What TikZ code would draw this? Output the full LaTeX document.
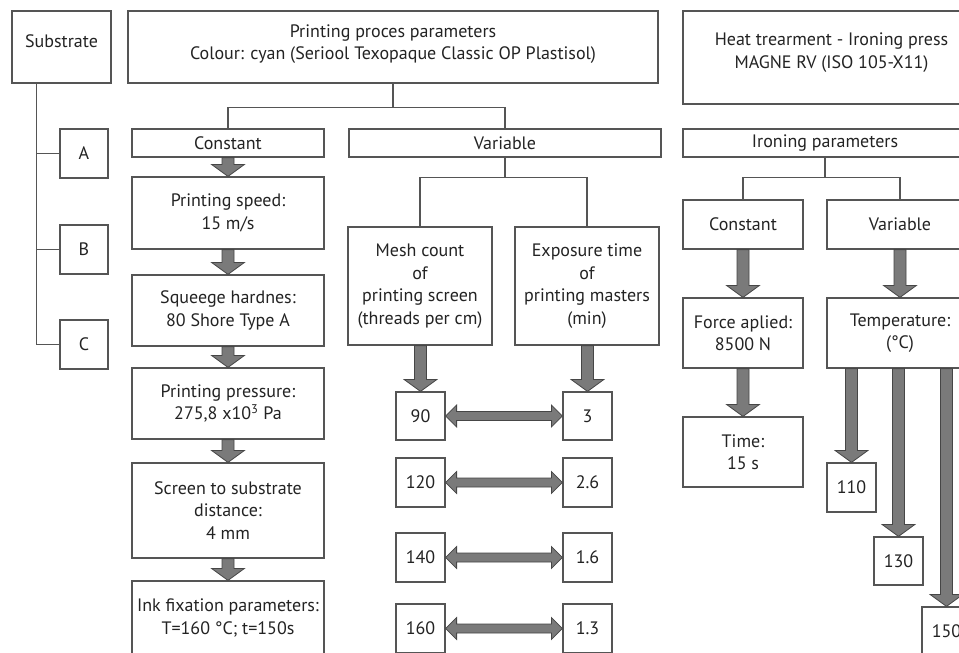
\documentclass[tikz,border=0pt]{standalone}
\usepackage{fontspec}
\setmainfont{PT Sans}
\usetikzlibrary{calc}
\definecolor{ln}{RGB}{85,85,85}
\definecolor{tx}{RGB}{35,35,35}
\definecolor{arf}{RGB}{122,122,122}
\definecolor{ard}{RGB}{70,70,70}
\tikzset{
  box/.style={draw=ln, line width=1.2pt, fill=white, inner sep=0pt, align=center, text=tx, font=\fontsize{18}{22.5}\selectfont},
  txt/.style={inner sep=0pt, align=center, text=tx, font=\fontsize{18}{22.5}\selectfont},
  conn/.style={draw=ln, line width=1.2pt},
  blk/.style={fill=arf, draw=ard, line width=0.8pt, line join=miter},
}
\newcommand\boxat[6]{\node[box, minimum width={(#4)-(#2)}, minimum height={(#5)-(#3)}] (#1) at ({((#2)+(#4))/2},{((#3)+(#5))/2}) {#6};}
\newcommand\blkdown[2]{%
  \path (#2.north |- #1.south) coordinate (bs) (#2.north) coordinate (be);
  \draw[blk] ([xshift=-6pt]bs) -- ([xshift=-6pt,yshift=12pt]be) -- ([xshift=-16.5pt,yshift=12pt]be) -- (be)
    -- ([xshift=16.5pt,yshift=12pt]be) -- ([xshift=6pt,yshift=12pt]be) -- ([xshift=6pt]bs) -- cycle;}
\newcommand\blkboth[2]{%
  \draw[blk] (#1.east) -- ([xshift=11pt,yshift=11pt]#1.east) -- ([xshift=11pt,yshift=4.5pt]#1.east)
    -- ([xshift=-11pt,yshift=4.5pt]#2.west) -- ([xshift=-11pt,yshift=11pt]#2.west) -- (#2.west)
    -- ([xshift=-11pt,yshift=-11pt]#2.west) -- ([xshift=-11pt,yshift=-4.5pt]#2.west)
    -- ([xshift=11pt,yshift=-4.5pt]#1.east) -- ([xshift=11pt,yshift=-11pt]#1.east) -- cycle;}
\begin{document}
\begin{tikzpicture}[x=1pt,y=-1pt]
\useasboundingbox (0,0) rectangle (959,653);
\clip (0,0) rectangle (959,653);
\fill[white] (0,0) rectangle (959,653);

% ---------- substrate ----------
\boxat{sub}{12}{11}{111}{83}{}
\node[txt] (subt) at ([yshift=6pt]sub.center) {Substrate};
\boxat{sa}{60}{129}{108}{178}{A}
\boxat{sb}{60}{225}{108}{274}{B}
\boxat{sc}{60}{320}{108}{369}{C}
\coordinate (subl) at ($(sub.south west)!0.25!(sub.south east)$);
\draw[conn] (subl) |- (sc.west);
\draw[conn] (subl |- sa.west) -- (sa.west);
\draw[conn] (subl |- sb.west) -- (sb.west);

% ---------- printing process ----------
\boxat{top}{128}{11}{658}{83}{}
\node[txt] (topt) at ([yshift=3pt]top.center) {Printing proces parameters\\Colour: cyan (Seriool Texopaque Classic OP Plastisol)};
\boxat{pcon}{132}{129}{324}{157}{Constant}
\boxat{pvar}{349}{129}{661}{157}{Variable}
\draw[conn] (top.south) -- (top.south |- 0,108);
\draw[conn] (pcon.north) -- ++(0,-21) -| (pvar.north);

\boxat{speed}{132}{177}{324}{249}{Printing speed:\\15 m/s}
\boxat{squee}{132}{275}{324}{346}{Squeege hardnes:\\80 Shore Type A}
\boxat{press}{132}{368}{324}{439}{Printing pressure:\\275,8 x10\textsuperscript{3} Pa}
\boxat{dist}{132}{463}{324}{558}{Screen to substrate\\distance:\\4 mm}
\boxat{ink}{132}{581}{324}{655}{Ink fixation parameters:\\T=160 °C; t=150s}
\blkdown{pcon}{speed}
\blkdown{speed}{squee}
\blkdown{squee}{press}
\blkdown{press}{dist}
\blkdown{dist}{ink}

\boxat{mesh}{348}{227}{492}{345}{Mesh count\\of\\printing screen\\(threads per cm)}
\boxat{expo}{515}{227}{659}{345}{Exposure time\\of\\printing masters\\(min)}
\draw[conn] (pvar.south) -- (pvar.south |- 0,178);
\draw[conn] (mesh.north) -- ++(0,-49) -| (expo.north);

\boxat{m1}{396}{392}{445}{440}{90}
\boxat{m2}{396}{458}{445}{507}{120}
\boxat{m3}{396}{533}{445}{582}{140}
\boxat{m4}{396}{604}{445}{653}{160}
\boxat{e1}{563}{392}{612}{440}{3}
\boxat{e2}{563}{458}{612}{507}{2.6}
\boxat{e3}{563}{533}{612}{582}{1.6}
\boxat{e4}{563}{604}{612}{653}{1.3}
\blkdown{mesh}{m1}
\blkdown{expo}{e1}
\blkboth{m1}{e1}
\blkboth{m2}{e2}
\blkboth{m3}{e3}
\blkboth{m4}{e4}

% ---------- heat treatment ----------
\boxat{heat}{683}{11}{980}{104}{}
\node[txt] (heatt) at ([yshift=5pt]heat.center) {Heat trearment - Ironing press\\MAGNE RV (ISO 105-X11)};
\boxat{iron}{683}{129}{967}{157}{Ironing parameters}
\boxat{icon}{683}{200}{803}{249}{Constant}
\boxat{ivar}{827}{200}{973}{249}{Variable}
\draw[conn] (iron.south) -- (iron.south |- 0,178);
\draw[conn] (icon.north) -- ++(0,-22) -| (ivar.north);

\boxat{force}{683}{298}{803}{368}{Force aplied:\\8500 N}
\boxat{time}{683}{417}{803}{487}{Time:\\15 s}
\boxat{temp}{827}{298}{973}{368}{Temperature:\\(°C)}
\blkdown{icon}{force}
\blkdown{force}{time}
\blkdown{ivar}{temp}

\boxat{t110}{827}{463}{876}{512}{110}
\boxat{t130}{874}{537}{923}{585}{130}
\boxat{t150}{922}{607}{971}{656}{150}
\blkdown{temp}{t110}
\blkdown{temp}{t130}
\blkdown{temp}{t150}
\end{tikzpicture}
\end{document}
